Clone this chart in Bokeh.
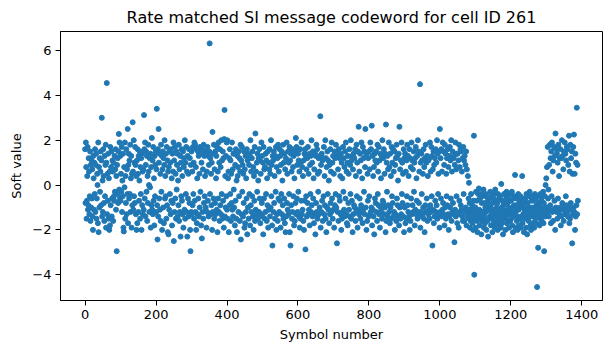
from bokeh.plotting import figure
from bokeh.models import Range1d, FixedTicker, ColumnDataSource
from bokeh.embed import file_html
from bokeh.resources import INLINE

title_text = "Rate matched SI message codeword for cell ID 261"
x_label = "Symbol number"
y_label = "Soft value"
x_ticks = [0, 200, 400, 600, 800, 1000, 1200, 1400]
y_ticks = [-4, -2, 0, 2, 4, 6]

soft_values = [
    1.6, -0.8, 1.9, 0.8, -1.5, -0.7, 0.4, 1.7, -1.1, -0.9,
    1.2, 0.6, -1.3, -0.5, 1.5, -1.6, 0.9, -1.0, 1.1, -0.6,
    0.7, -1.4, -2.0, 1.3, 0.3, -1.1, 1.0, -0.4, 1.6, -1.2,
    0.9, 1.4, -1.5, -0.6, 0.5, 0.0, -1.7, 1.9, -2.1, 0.8,
    -1.0, 1.2, -0.3, 0.6, 1.5, -0.9, 1.1, 3.0, -1.4, 0.2,
    -1.2, 1.6, 0.4, -0.8, -1.6, 1.3, -0.5, 0.9, 1.8, -1.9,
    1.0, 4.55, -1.3, 0.5, -0.7, 1.4, -1.5, 0.3, -2.0, 0.6,
    -1.8, 1.7, -0.9, 0.8, 1.5, -1.4, -0.6, 1.1, 0.6, -1.6,
    1.0, -0.5, -0.7, 1.3, -0.3, 0.7, 1.6, -1.1, 0.4, -2.95,
    0.9, -0.4, 1.2, -0.8, 1.5, 2.28, -0.2, 1.9, -0.6, 1.3,
    -0.7, 0.5, -0.3, 1.7, -1.2, 0.2, -0.5, 1.4, -1.9, -2.07,
    0.8, -0.1, 1.9, -1.5, 0.4, -0.8, 1.6, -1.3, 0.7, -0.4,
    2.5, -1.7, 0.9, 1.4, -0.6, 1.1, -0.4, 1.8, -1.2, 0.3,
    1.3, -1.9, 0.5, -0.9, 2.8, 0.6, -1.1, 2.0, -0.5, 1.0,
    -0.8, 1.7, 0.9, -1.3, 0.4, -2.0, 1.1, -1.7, 1.6, 0.5,
    -1.2, 1.3, -0.7, 0.2, 1.5, -1.5, 0.8, -0.4, 1.2, -2.0,
    1.4, -0.9, 0.6, -1.3, 0.7, -1.1, 3.12, 1.6, -0.6, 1.9,
    -1.4, 0.9, 1.5, -0.3, 1.3, -1.6, 0.4, -0.8, 1.8, 0.6,
    0.0, -1.2, 1.2, -0.1, 1.4, -1.9, 0.8, -0.9, 2.1, -1.1,
    1.1, -1.3, 1.7, -0.7, 0.3, -1.8, 1.3, -0.5, 0.9, 1.5,
    -1.2, 0.7, 3.4, -0.9, -2.43, 1.6, -1.4, 2.5, 1.0, -0.6,
    1.4, -1.1, 0.5, -1.6, 1.8, -0.3, 1.3, -2.0, 0.7, 1.5,
    -1.0, 1.2, -1.7, 0.9, 2.0, -0.6, 0.4, -0.5, 1.4, -1.5,
    1.7, -0.9, 1.1, -2.1, 0.6, -2.2, 0.8, -1.1, 1.5, -0.4,
    1.0, -1.3, 1.6, -0.7, 0.3, -1.8, 1.4, -0.8, 0.6, 1.9,
    -2.5, 1.1, -1.2, 1.7, -0.6, 0.5, -1.5, 1.5, -0.2, 0.9,
    1.4, -1.4, 0.2, -0.9, 1.8, -1.6, 0.7, -1.2, 1.3, -2.3,
    1.0, -0.5, 1.6, -0.7, 0.4, -1.3, 1.5, -1.9, 0.8, 1.2,
    -1.1, 2.0, -1.5, 1.0, -0.4, 1.7, -1.2, 0.6, -2.3, 1.3,
    -0.6, 0.5, -1.4, 1.6, -0.8, 1.2, -2.0, -2.95, 0.9, -1.2,
    1.5, -1.3, 0.6, -0.9, 1.7, -0.4, 1.0, -1.5, 1.9, -0.7,
    1.8, -1.2, 0.8, -2.0, 1.6, -1.7, 0.3, -1.3, 1.5, -0.6,
    1.3, -1.4, 0.5, -1.0, 1.7, -0.3, 1.4, -1.8, 1.0, -2.38,
    1.6, -1.2, 0.7, -1.5, 1.8, -0.8, 1.3, -0.5, 0.4, 1.5,
    -1.0, 1.4, -1.9, 0.6, -1.2, 1.7, -0.7, 1.3, -1.4, 0.9,
    1.5, 6.32, -0.4, 1.2, -1.3, 0.5, -0.9, 1.0, -2.0, 2.37,
    -1.2, 1.4, -0.6, 1.8, -1.5, 0.7, -0.8, 1.5, -1.3, 0.3,
    1.3, -1.1, 1.7, -2.1, 0.6, -0.6, 1.9, -1.2, 1.0, -1.6,
    1.6, -0.9, 0.8, -1.3, 2.0, -0.4, 1.1, -1.5, 1.5, -0.7,
    1.2, -1.9, 2.05, 3.35, -1.4, 0.4, -1.0, 1.3, -0.5, 1.9,
    -1.1, 2.0, -1.5, 0.3, 0.6, -2.1, 1.2, -0.9, 1.6, -0.4,
    1.1, -1.6, 0.5, -0.8, 1.9, -1.1, 0.7, -1.4, 1.4, -0.2,
    -1.0, 1.4, -1.8, 0.9, -0.7, 1.6, -1.5, 0.2, -2.1, 1.3,
    0.4, 0.8, -1.2, 1.5, -0.5, 1.2, -1.6, 0.6, 1.8, -2.43,
    1.1, -1.3, 1.7, -0.3, 0.9, -1.4, 0.5, -0.8, 1.5, -1.9,
    0.7, -1.7, 1.3, -1.2, 0.3, -0.6, 1.6, -2.2, 1.1, -1.0,
    1.4, -1.5, 0.9, -0.4, 1.3, -1.8, 2.0, -0.9, 0.6, -1.2,
    1.2, -0.5, 1.5, -1.4, 0.8, -2.0, 0.4, -0.7, 1.7, -1.6,
    2.3, -1.1, 0.6, -1.3, 1.0, -0.3, 1.4, -1.5, 0.2, 1.2,
    -1.2, 1.6, -0.6, 1.1, -1.7, 0.5, -1.3, 1.9, -0.8, 1.3,
    -1.4, 1.0, -2.2, 1.7, -0.6, 0.7, -1.5, 0.8, -1.2, 1.4,
    -0.4, 1.1, -1.6, 0.3, -0.9, 1.5, -1.9, 1.0, -1.1, 0.7,
    1.6, -1.4, 0.5, -1.0, 2.0, -0.5, 0.9, -1.8, -2.7, 1.3,
    1.1, -1.2, 1.5, -0.8, 0.4, -1.5, 1.3, -0.3, 1.7, -2.0,
    0.8, -1.3, 1.2, -1.6, 1.8, -0.6, 0.6, -1.2, 1.6, -0.7,
    1.3, -1.9, 0.9, -0.4, 1.5, -1.3, 0.2, -0.9, 1.8, -1.5,
    1.0, -0.6, 1.4, -1.7, 0.7, -2.1, 1.2, -1.4, 1.9, -0.8,
    0.5, -1.1, 1.5, -1.3, 1.0, -0.4, 1.7, -2.1, 1.1, -2.7,
    1.4, -0.9, 0.6, -1.5, 1.6, -1.2, 0.8, -0.5, 1.3, -1.8,
    0.3, -1.6, 1.5, -0.8, 2.1, -1.3, 1.7, -0.6, 0.9, -1.2,
    1.4, -0.3, 1.1, -1.4, 0.6, -1.9, 1.6, -1.5, 1.0, -0.7,
    1.9, -1.3, 0.8, -1.1, 0.4, -1.6, 1.1, -2.0, 1.4, -0.7,
    1.6, -2.87, 1.3, -0.5, 0.7, -1.4, 1.2, -0.8, 1.7, -1.3,
    0.5, -1.1, 1.4, -1.8, 0.9, -0.4, 1.3, -1.2, 2.0, -0.9,
    1.0, -1.4, 1.5, -0.6, 0.3, -1.7, 0.7, -1.3, 1.4, -2.2,
    1.3, -0.8, 1.8, -1.2, 1.6, -1.5, 0.5, -0.3, 1.2, -1.3,
    0.6, -1.0, 1.3, 3.07, -1.9, 0.9, -1.2, 1.4, -0.7, 1.1,
    -1.6, 1.2, -0.5, 1.7, -1.3, 0.4, -0.9, 2.0, -1.5, 1.2,
    -2.1, 0.8, -1.0, 1.5, -0.4, 1.1, -1.1, 0.2, -1.7, 0.9,
    -1.3, 1.6, -0.8, 0.6, -1.2, 1.9, -0.6, 1.0, -1.5, 1.3,
    -1.1, 0.5, -1.9, 1.5, -0.9, 1.2, -0.4, 1.8, -1.0, 1.4,
    -2.6, 1.3, -1.2, 0.7, -1.6, 1.6, -0.5, 1.2, -0.7, 0.4,
    -1.3, 1.4, -2.0, 1.0, -1.5, 0.3, -1.2, 1.7, -0.3, 1.2,
    -1.1, 0.8, -1.4, 1.5, -0.6, 1.9, -1.3, 0.6, -1.7, 1.0,
    -1.8, 1.3, -0.8, 0.5, -1.1, 1.6, -1.4, 0.9, -0.4, 2.0,
    -1.5, 1.1, -0.7, 1.3, -2.1, 0.7, -1.3, 1.4, -0.9, 1.2,
    -1.0, 1.6, -1.6, 0.4, -1.2, 1.8, -0.5, 1.0, -1.9, 1.5,
    -1.1, 2.6, -1.3, 0.6, -0.6, 1.4, -1.5, 1.1, -0.9, 1.9,
    -1.2, 0.3, -1.7, 1.7, -1.1, 1.2, -0.3, 1.5, -1.3, 0.8,
    2.5, -1.0, 1.3, -2.0, 1.4, -1.6, 0.5, -0.7, 1.2, -1.4,
    1.5, -0.5, 0.7, -1.3, 1.9, -1.2, 1.6, -1.0, 2.65, -1.8,
    1.3, -1.1, 0.4, -1.4, 0.8, -2.2, 1.4, -0.6, 1.1, -0.8,
    1.5, -1.2, 1.0, -1.6, 1.8, -0.4, 0.6, -0.9, 1.7, -1.3,
    1.1, -1.9, 1.4, -1.0, 0.3, -1.2, 1.3, -1.5, 2.0, -0.7,
    1.2, -0.8, 1.6, -1.3, 0.5, -1.0, 1.4, -2.1, 2.7, -1.6,
    1.0, -0.3, 1.3, -1.4, 0.7, -0.9, 1.9, -1.2, 0.8, -1.7,
    1.4, -1.0, 0.4, -1.5, 1.7, -0.5, 1.0, -0.8, 1.6, -1.4,
    0.6, -1.2, 1.5, -2.0, 0.9, -1.3, 1.2, -1.6, 1.8, -0.6,
    1.3, -0.9, 0.2, -1.4, 1.4, -1.8, 2.6, -1.0, 0.7, -1.5,
    1.1, -1.3, 1.9, -0.4, 1.0, -0.8, 0.5, -1.4, 1.6, -2.1,
    1.2, -1.0, 1.4, -1.7, 0.6, -1.5, 1.1, -0.5, 1.8, -0.9,
    1.3, -1.2, 0.4, -1.4, 1.6, -2.0, 1.2, -1.6, 0.8, -0.6,
    1.9, -1.3, 1.1, -0.9, 0.7, -1.2, 1.5, -0.3, 1.0, -1.8,
    1.2, -1.1, 1.7, -1.3, 0.3, -0.7, 1.3, -1.5, 2.0, -1.2,
    1.5, -0.8, 0.6, -1.4, 4.5, -1.9, 1.0, -1.2, 1.4, -0.4,
    1.1, -1.3, 0.5, -1.0, 1.6, -1.5, 0.8, -2.1, 1.2, -0.9,
    1.8, -1.2, 1.0, -0.6, 1.3, -1.6, 0.4, -1.3, 1.1, -1.1,
    1.2, -1.5, 1.9, -0.9, 0.6, -1.2, 1.7, -0.5, 1.3, -2.7,
    0.7, -1.1, 1.5, -1.7, 0.9, -1.4, 1.2, -0.7, 1.6, -1.2,
    1.0, -0.9, 2.0, -1.5, 1.4, -0.4, 0.5, -1.3, 1.5, -1.9,
    2.5, -1.2, 1.2, -0.6, 1.6, -1.4, 0.6, -1.1, 1.9, -0.8,
    1.5, -1.3, 0.9, -1.8, 1.8, -1.0, 1.4, -1.5, 0.5, -0.5,
    1.2, -0.9, 1.6, -1.3, 0.8, -2.0, 1.3, -1.4, 1.7, -1.0,
    1.1, -0.6, 2.0, -1.6, 0.6, -1.2, 1.5, -0.8, 1.2, -1.3,
    1.3, -2.55, 0.9, -1.1, 1.9, -1.4, 0.7, -0.5, 1.4, -1.7,
    1.4, -1.3, 1.1, -1.9, 1.8, -0.7, 0.8, -1.2, 1.6, -0.9,
    1.5, -1.1, 0.6, -1.4, 1.2, -1.6, 1.7, -0.4, 1.1, -1.6,
    1.3, -1.2, 0.9, -1.0, 1.5, -1.8, 0.7, -1.1, -1.4, 0.4,
    -1.2, -0.6, 0.1, -1.5, -0.8, -1.9, -1.1, -1.6, -0.4, -1.2,
    -1.4, -0.9, -1.7, -1.1, -2.0, -0.7, 2.2, -4.0, -1.2, -1.5,
    -1.0, -1.9, -0.3, -1.3, -0.7, -1.6, -2.1, -1.2, -0.4, -1.5,
    -0.15, -1.1, -1.8, -0.6, -1.4, -0.4, -1.2, -2.2, -0.8, -1.6,
    -1.5, -0.5, -1.2, -0.2, -1.9, -1.4, -0.8, -1.7, -1.0, -0.4,
    -1.2, -2.0, -0.5, -1.1, -1.6, -0.7, -2.3, -1.0, -0.6, -1.5,
    -0.9, -1.4, -0.3, -1.0, -1.8, -1.2, -0.5, -1.5, -2.1, -0.8,
    -1.3, -0.6, -1.7, -1.1, -0.4, -1.9, -0.2, -1.4, -1.2, -0.7,
    -1.0, -1.6, -0.8, -2.0, -0.4, -1.2, -1.8, -0.6, -1.1, -1.5,
    -0.5, -1.3, -1.9, 0.05, -1.0, -1.7, -0.7, -1.3, -2.2, -0.9,
    -1.1, -0.4, -1.5, -0.8, -1.2, -2.0, -1.4, -0.6, -0.3, -1.7,
    -1.2, -0.8, -0.5, -1.6, -1.0, -1.9, -1.3, -0.7, -1.6, -0.4,
    -0.7, -1.5, -1.2, -0.3, -1.8, -1.0, -2.1, -0.6, -1.4, -0.9,
    -1.3, -0.5, 0.45, -1.2, -1.9, -0.6, -0.9, -1.6, -1.1, -2.0,
    -1.4, -0.4, -1.1, -1.8, -0.7, -0.8, -1.5, -0.5, -1.9, -1.0,
    -0.9, -1.4, 0.4, -1.7, -0.6, -1.3, -1.0, -2.1, -0.8, -1.2,
    -1.5, -0.6, -1.1, -1.9, -0.4, -1.2, -2.2, -0.8, -1.4, -1.0,
    -1.6, -0.5, -1.2, -0.3, -1.4, -1.0, -1.8, -2.0, -0.7, -1.1,
    -1.2, -1.7, -0.5, -1.0, -1.4, -0.7, -1.9, -1.2, -0.4, -1.5,
    -1.1, -0.6, -1.7, -0.9, -4.55, -1.3, -0.5, -2.8, -1.4, -0.8,
    -1.0, -1.8, -1.2, -0.4, -1.5, -1.0, -0.7, -1.6, -0.5, -1.3,
    -1.1, -0.3, -1.7, -0.8, -2.95, -1.2, -0.5, -1.4, 0.0, -1.0,
    0.3, -1.0, 0.8, -1.2, 1.7, -0.6, -0.2, -1.4, 0.9, -1.1,
    1.8, -0.9, 1.2, -1.7, 1.5, -0.5, 1.9, -1.2, 0.6, -1.6,
    1.1, -1.1, 1.7, -0.7, 1.3, -2.0, 2.3, -1.0, 1.6, -1.2,
    1.4, -1.5, 1.0, -0.6, 1.8, -1.1, 0.4, -1.3, 1.2, -1.0,
    1.6, -1.8, 1.2, -1.4, 2.0, -0.8, 1.3, -1.1, 0.7, -1.6,
    1.5, -1.0, 1.9, -1.3, 1.4, -0.5, 1.1, -0.9, 1.7, -1.2,
    1.6, -1.4, 0.9, -1.0, 2.2, -1.7, 0.6, -1.5, 1.8, -0.8,
    1.2, -1.1, 1.5, -2.6, 0.5, -1.3, 1.7, -1.0, 2.25, -1.2,
    0.5, -2.0, 1.4, -1.4, 1.0, -0.9, 3.45, -1.3, 0.9, -0.7,
]
symbol_number = list(range(len(soft_values)))

source = ColumnDataSource(data=dict(x=symbol_number, y=soft_values))

FONT = "DejaVu Sans"

p = figure(
    width=612, height=353,
    output_backend="svg", toolbar_location=None,
    x_range=Range1d(-69.45, 1458.45),
    y_range=Range1d(-5.15, 6.85),
    min_border_left=60, min_border_right=10,
    min_border_top=30, min_border_bottom=53,
    title=title_text,
)
p.background_fill_color = "white"
p.border_fill_color = "white"
p.outline_line_color = "black"
p.outline_line_width = 1

p.title.align = "center"
p.title.text_font = FONT
p.title.text_font_size = "16px"
p.title.text_font_style = "normal"
p.title.text_color = "black"

p.scatter(x="x", y="y", source=source, size=5, color="#1f77b4")

p.xgrid.visible = False
p.ygrid.visible = False

for ax, ticks in ((p.xaxis[0], x_ticks), (p.yaxis[0], y_ticks)):
    ax.ticker = FixedTicker(ticks=ticks)
    ax.major_label_overrides = {t: (str(t).replace("-", "\u2212")) for t in ticks}
    ax.minor_tick_line_color = None
    ax.major_tick_in = 0
    ax.major_tick_out = 5
    ax.major_tick_line_color = "black"
    ax.axis_line_color = "black"
    ax.major_label_text_font = FONT
    ax.major_label_text_font_size = "13px"
    ax.major_label_text_color = "black"
    ax.major_label_standoff = 4
    ax.axis_label_text_font = FONT
    ax.axis_label_text_font_size = "13px"
    ax.axis_label_text_font_style = "normal"
    ax.axis_label_text_color = "black"

p.xaxis[0].axis_label = x_label
p.yaxis[0].axis_label = y_label
p.xaxis[0].axis_label_standoff = 5
p.yaxis[0].axis_label_standoff = 5

open("out.html", "w").write(file_html(p, INLINE))
